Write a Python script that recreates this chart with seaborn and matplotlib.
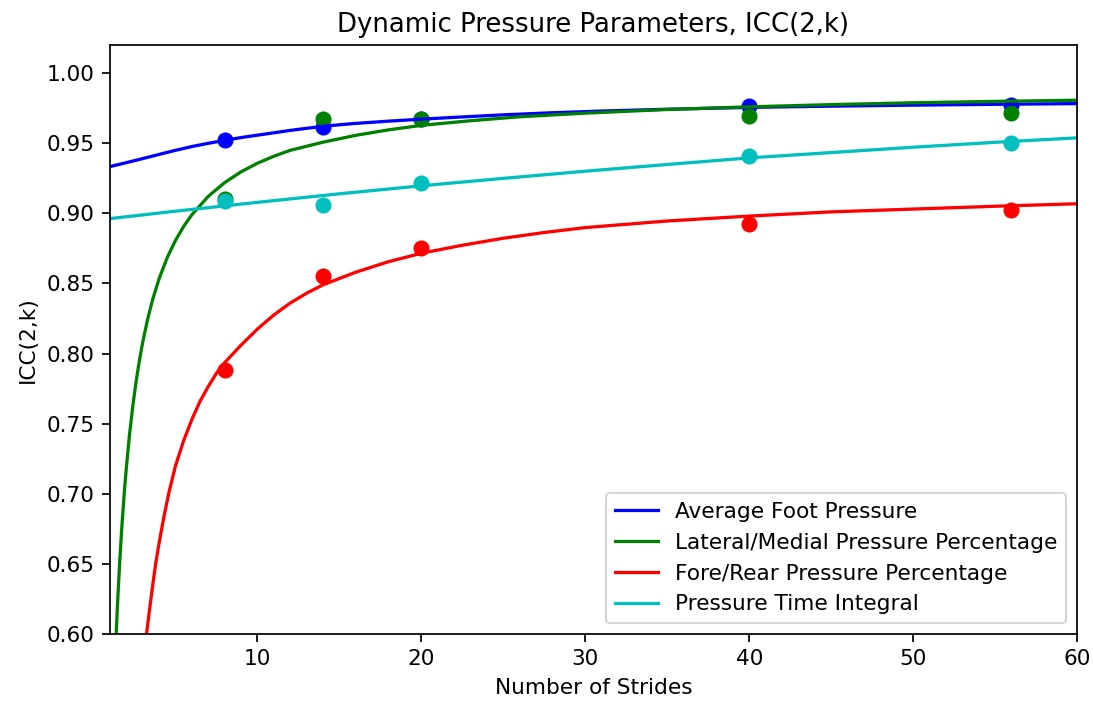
import matplotlib
matplotlib.use("Agg")
import matplotlib.pyplot as plt
import seaborn as sns
import pandas as pd

# measured ICC(2,k) values
strides = [8, 14, 20, 40, 56]
avg_foot = [0.952, 0.9618, 0.967, 0.9768, 0.9775]
lat_med = [0.9105, 0.9673, 0.9673, 0.9694, 0.9716]
fore_rear = [0.788, 0.8552, 0.8754, 0.8927, 0.9025]
pti = [0.9088, 0.9061, 0.9217, 0.9412, 0.9504]

# fitted curves
avg_fit_x = [1, 2, 3, 4, 5, 6, 7, 8, 9, 10, 11, 12, 13, 14, 15, 16, 18, 20, 22, 25,
             28, 31, 35, 40, 45, 50, 55, 60]
avg_fit_y = [0.9333, 0.9361, 0.939, 0.942, 0.9449, 0.9476, 0.9499, 0.952, 0.954, 0.9557,
             0.9574, 0.9591, 0.9606, 0.962, 0.9631, 0.9641, 0.9657, 0.9671, 0.9684, 0.9702,
             0.9717, 0.9729, 0.9742, 0.9755, 0.9764, 0.9771, 0.9777, 0.9782]
lat_fit_x = [1.35, 1.38, 1.45, 1.5, 1.6, 1.7, 1.8, 1.9, 2.0, 2.2, 2.4, 2.6, 2.8, 3.0, 3.3,
             3.6, 4.0, 4.5, 5, 5.5, 6, 7, 8, 9, 10, 11, 12, 14, 16, 18, 20, 23, 26, 30,
             35, 40, 45, 50, 55, 60]
lat_fit_y = [0.587, 0.6, 0.6183, 0.6303, 0.6523, 0.6717, 0.689, 0.7046, 0.7186, 0.7429,
             0.7632, 0.7804, 0.7953, 0.8081, 0.8245, 0.8383, 0.8534, 0.8686, 0.8807, 0.8907,
             0.899, 0.9121, 0.9219, 0.9296, 0.9357, 0.9407, 0.9449, 0.9507, 0.9556, 0.9595,
             0.9627, 0.966, 0.9688, 0.9714, 0.974, 0.9759, 0.9775, 0.9788, 0.9798, 0.9806]
fore_fit_x = [3.15, 3.2, 3.4, 3.6, 3.8, 4.0, 4.3, 4.6, 5.0, 5.5, 6.0, 6.5, 7.0, 7.5, 8, 9,
              10, 11, 12, 13, 14, 16, 18, 20, 22.5, 25, 27.5, 30, 35, 40, 45, 50, 55, 60]
fore_fit_y = [0.592, 0.597, 0.616, 0.634, 0.651, 0.665, 0.684, 0.701, 0.72, 0.738, 0.753,
              0.766, 0.7765, 0.786, 0.7935, 0.806, 0.8175, 0.8275, 0.836, 0.843, 0.849, 0.858,
              0.8655, 0.8715, 0.8772, 0.8822, 0.8863, 0.8898, 0.8945, 0.898, 0.901, 0.903,
              0.905, 0.9068]
pti_fit_x = [1, 5, 10, 15, 20, 25, 30, 35, 40, 45, 50, 55, 60]
pti_fit_y = [0.8962, 0.9015, 0.9078, 0.9139, 0.9196, 0.9249, 0.93, 0.9348, 0.9395, 0.9433,
             0.9471, 0.9506, 0.9538]

series = [
    ("Average Foot Pressure", "b", avg_foot, avg_fit_x, avg_fit_y),
    ("Lateral/Medial Pressure Percentage", "g", lat_med, lat_fit_x, lat_fit_y),
    ("Fore/Rear Pressure Percentage", "r", fore_rear, fore_fit_x, fore_fit_y),
    ("Pressure Time Integral", "c", pti, pti_fit_x, pti_fit_y),
]

fig = plt.figure(figsize=(1093 / 156, 702 / 156), dpi=156)
ax = fig.add_axes([0.1006, 0.0969, 0.8848, 0.839])

for name, col, pts, fx, fy in series:
    sns.scatterplot(x=strides, y=pts, color=col, s=55, linewidth=0, ax=ax)
    fit = pd.DataFrame({"x": fx, "y": fy})
    sns.lineplot(data=fit, x="x", y="y", color=col, linewidth=1.5, label=name, ax=ax)

ax.set_xlim(1, 60)
ax.set_ylim(0.6, 1.02)
ax.set_xticks([10, 20, 30, 40, 50, 60])
ax.set_yticks([0.6, 0.65, 0.7, 0.75, 0.8, 0.85, 0.9, 0.95, 1.0])
ax.set_title("Dynamic Pressure Parameters, ICC(2,k)")
ax.set_xlabel("Number of Strides")
ax.set_ylabel("ICC(2,k)")
ax.legend(loc="lower right")

fig.savefig("out.png", dpi=156)
